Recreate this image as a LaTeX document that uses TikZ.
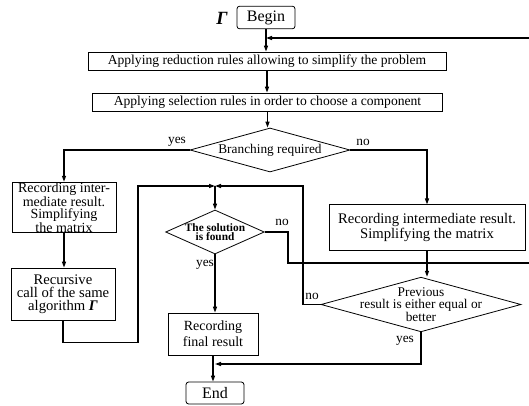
\documentclass[tikz,border=0pt]{standalone}
\usepackage{fontspec}
\setmainfont{Liberation Serif}
\usetikzlibrary{shapes.geometric,arrows.meta}

\begin{document}
\begin{tikzpicture}[x=0.75pt, y=-0.75pt,
        box/.style = {draw, line width=0.6pt, inner sep=0pt, align=center},
        term/.style = {box, rounded corners=2pt, font=\fontsize{12}{12}\selectfont},
        dec/.style = {draw, line width=0.6pt, diamond, align=center},
        lbl/.style = {font=\fontsize{10}{10}\selectfont},
        wire/.style = {line width=0.9pt},
        link/.style = {wire, -{Triangle[length=4.5pt,width=3pt]}}]
    \useasboundingbox (0,0) rectangle (529,406);

    % Nodes with manual coordinates
    \node[term, minimum width=43.5pt, minimum height=17pt] (begin) at (266,17.5) {Begin};
    \node (gam) at (222,18) {\fontsize{14}{14}\selectfont\bfseries\itshape Γ};
    \node[box, minimum width=268.5pt, minimum height=13.5pt, font=\fontsize{10.2}{10}\selectfont] (reduce) at (267,61)
        {Applying reduction rules allowing to simplify the problem};
    \node[box, minimum width=263pt, minimum height=13.5pt, font=\fontsize{10.2}{10}\selectfont] (select) at (267.5,102)
        {Applying selection rules in order to choose a component};
    \node[dec, inner sep=0pt, aspect=4, minimum width=120pt, minimum height=33pt, font=\fontsize{10}{10}\selectfont] (branch) at (270,150)
        {Branching required};
    \node[box, minimum width=78pt, minimum height=38pt, font=\fontsize{10.5}{9}\selectfont] (rec1) at (64,207.5)
        {Recording inter-\\mediate result.\\Simplifying\\the matrix};
    \node[box, minimum width=78pt, minimum height=39pt, font=\fontsize{11}{9.8}\selectfont] (recur) at (63,294)
        {Recursive\\call of the same\\algorithm {\bfseries\itshape Γ}};
    \node[box, minimum width=147pt, minimum height=34pt, font=\fontsize{11}{11}\selectfont] (rec2) at (427,227.5)
        {Recording intermediate result.\\Simplifying the matrix};
    \node[dec, inner xsep=-6pt, inner ysep=0pt, aspect=2, minimum width=74pt, minimum height=33pt,
        font=\fontsize{8.5}{7}\selectfont\bfseries] (sol) at (215,232) {The solution\\is found};
    \node[dec, inner xsep=-14pt, inner ysep=-5pt, aspect=3, minimum width=150pt, minimum height=41pt,
        font=\fontsize{10}{9.5}\selectfont] (prev) at (421,304.5) {Previous\\result is either equal or\\better};
    \node[box, minimum width=67.5pt, minimum height=31.5pt, font=\fontsize{10.5}{12}\selectfont] (final) at (213,334)
        {Recording\\final result};
    \node[term, minimum width=43.5pt, minimum height=16.5pt] (end) at (215,393) {End};

    % Free ends and joints
    \coordinate (rin) at (529,38);
    \coordinate (rout) at (529,263);
    \coordinate (jn) at (215,186);
    \coordinate (jm) at (215,364);

    % Labels
    \node[lbl] (y1) at (177,142) {yes};
    \node[lbl] (n1) at (363,142) {no};
    \node[lbl] (n2) at (282,222) {no};
    \node[lbl] (y2) at (205,265) {yes};
    \node[lbl] (n3) at (312,296) {no};
    \node[lbl] (y3) at (405,341) {yes};

    % Edges
    \draw[link] (begin.south) -- (begin.south |- reduce.north);
    \draw[link] (rin) -- (begin.south |- rin);
    \draw[link] (reduce) -- (reduce |- select.north);
    \draw[link] (select) -- (select |- branch.north);
    \draw[link] (branch.west) -| (rec1.north);
    \draw[link] (branch.east) -| (rec2.north);
    \draw[link] (rec1) -- (rec1 |- recur.north);
    \draw[link] (recur.south) -- ++(0,22) -| (138,186) -- (jn);
    \draw[link] (prev.west) -- (303,304.5) |- (jn);
    \draw[link] (jn) -- (sol.north);
    \draw[wire] (sol.east) -- (288,232) |- (rout);
    \draw[link] (sol.south) -- (sol.south |- final.north);
    \draw[link] (final.south) -- (final.south |- end.north);
    \draw[link] (rec2.south) -- (rec2.south |- prev.north);
    \draw[link] (prev.south) |- (jm);
\end{tikzpicture}
\end{document}
